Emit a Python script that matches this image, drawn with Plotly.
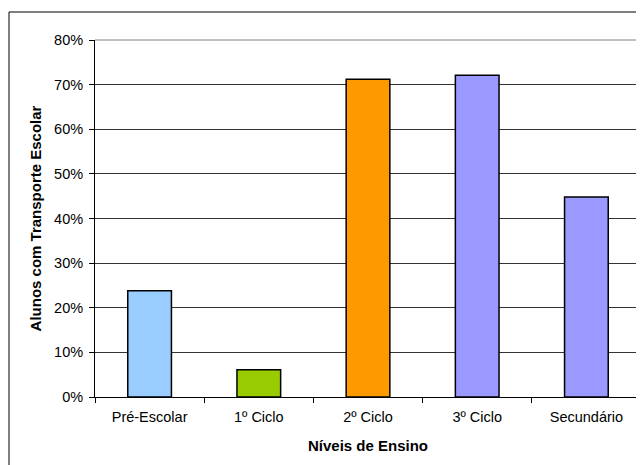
import plotly.graph_objects as go

categories = ["Pré-Escolar", "1º Ciclo", "2º Ciclo", "3º Ciclo", "Secundário"]
values = [0.238, 0.061, 0.712, 0.721, 0.448]
colors = ["#99CCFF", "#99CC00", "#FF9900", "#9999FF", "#9999FF"]
y_ticks = [0, 0.1, 0.2, 0.3, 0.4, 0.5, 0.6, 0.7, 0.8]

# page body has an 8px margin; figure sized/offset to compensate
W, H = 636, 457
L, R, T, B = 87, 3, 32, 68
pw, ph = W - L - R, H - T - B

fig = go.Figure(go.Bar(
    x=categories, y=values,
    marker=dict(color=colors, line=dict(color="#000000", width=1.5)),
    width=0.4,
))

font = "Liberation Sans, Arial, sans-serif"

fig.update_layout(
    width=W, height=H,
    margin=dict(l=L, r=R, t=T, b=B, pad=0, autoexpand=False),
    paper_bgcolor="white", plot_bgcolor="white",
    showlegend=False,
    font=dict(family=font, size=14.5, color="#000000"),
)

fig.update_xaxes(
    type="category", automargin=False,
    showline=True, linecolor="#000000", linewidth=1,
    ticks="outside", ticklen=5, tickcolor="#000000", tickson="boundaries",
    showgrid=False,
    tickfont=dict(size=14.5), ticklabelstandoff=7,
    title=dict(text="<b>Níveis de Ensino</b>", font=dict(size=15), standoff=16),
)
fig.update_yaxes(
    range=[0, 0.8], tickvals=y_ticks, tickformat=".0%", automargin=False,
    showline=True, linecolor="#000000", linewidth=1,
    ticks="outside", ticklen=5, tickcolor="#000000",
    showgrid=True, gridcolor="#333333", gridwidth=1,
    zeroline=False,
    tickfont=dict(size=14.5), ticklabelstandoff=3,
    title=dict(text="<b>Alunos com Transporte Escolar</b>", font=dict(size=15), standoff=8),
)

# plot-area border (top & right, gray)
fig.add_shape(type="line", xref="paper", yref="paper", x0=0, x1=1, y0=1, y1=1,
              line=dict(color="#808080", width=1), layer="above")
fig.add_shape(type="line", xref="paper", yref="paper", x0=1, x1=1, y0=0, y1=1,
              line=dict(color="#808080", width=1), layer="above")
# chart-area outer border
fig.add_shape(type="rect", xref="paper", yref="paper",
              x0=(1 - L) / pw, x1=(W + 20 - L) / pw,
              y0=(H - T - 500) / ph, y1=(H - B - 4) / ph,
              line=dict(color="#000000", width=1), layer="below")

fig.write_html("out.html")
